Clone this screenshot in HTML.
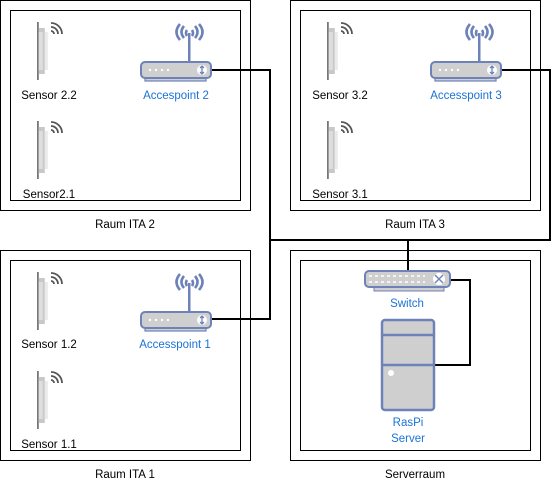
<!DOCTYPE html>
<html><head><meta charset="utf-8"><style>
html,body{margin:0;padding:0;background:#fff}
svg{display:block}
text{font-family:"Liberation Sans",sans-serif;font-size:11.5px}
.b{fill:#000}.l{fill:#1a73d6}
</style></head><body>
<svg width="553" height="482" viewBox="0 0 553 482" xmlns="http://www.w3.org/2000/svg">
<defs>
<g id="sensor">
  <rect x="0" y="0" width="1.8" height="58" fill="#777"/>
  <rect x="1.8" y="6" width="6" height="46" fill="#c8c8c8"/>
  <rect x="1.8" y="10" width="4" height="38" fill="#dedede"/>
  <rect x="7.8" y="10" width="3" height="38" fill="#eaeaea"/>
  <g fill="none" stroke="#555" stroke-width="1.8">
    <path d="M14 9 a3 3 0 0 1 3 3"/>
    <path d="M14 5 a7 7 0 0 1 7 7"/>
    <path d="M14 1 a11 11 0 0 1 11 11"/>
  </g>
</g>
<g id="ap">
  <rect x="48" y="-28" width="2.5" height="30" fill="#6d82b8"/>
  <g fill="none" stroke="#6d82b8" stroke-width="2.6">
    <path d="M44 -35 q-5 6 0 12"/><path d="M40 -37 q-7 8 0 16"/>
    <path d="M55 -35 q5 6 0 12"/><path d="M59 -37 q7 8 0 16"/>
    <path d="M47 -31 q-2 3 0 6"/><path d="M52 -31 q2 3 0 6"/>
  </g>
  <rect x="5" y="16" width="61" height="4" fill="#cfcfcf" stroke="#6d82b8" stroke-width="1.2"/>
  <rect x="1" y="1" width="70" height="16" rx="4" fill="#cfcfcf" stroke="#6d82b8" stroke-width="2"/>
  <g fill="#fff"><circle cx="10" cy="9" r="1.2"/><circle cx="16" cy="9" r="1.2"/><circle cx="22" cy="9" r="1.2"/><circle cx="28" cy="9" r="1.2"/></g>
  <circle cx="62" cy="9" r="5" fill="#fff"/>
  <path d="M62 5.5 v7 M60 7 l2-2 2 2 M60 11 l2 2 2-2" stroke="#6d82b8" stroke-width="1.3" fill="none"/>
</g>
</defs>

<g fill="none" stroke="#000" stroke-width="1">
  <rect x="0.5" y="0.5" width="250" height="210"/><rect x="10.5" y="10.5" width="230" height="190"/>
  <rect x="290.5" y="0.5" width="250" height="210"/><rect x="300.5" y="10.5" width="230" height="190"/>
  <rect x="0.5" y="250.5" width="250" height="210"/><rect x="10.5" y="260.5" width="230" height="190"/>
  <rect x="290.5" y="250.5" width="250" height="210"/><rect x="300.5" y="260.5" width="230" height="190"/>
</g>

<g fill="none" stroke="#000" stroke-width="2">
  <path d="M211 70 H270 V319 H211"/>
  <path d="M501 70 H550 V240 H270"/>
  <path d="M408 240 V270"/>
  <path d="M450 280 H470 V365 H433"/>
</g>

<use href="#sensor" x="37" y="22"/><use href="#sensor" x="37" y="121"/>
<use href="#ap" x="140" y="61"/>
<text class="b" x="49" y="99" text-anchor="middle">Sensor 2.2</text>
<text class="b" x="49" y="198" text-anchor="middle">Sensor2.1</text>
<text class="l" x="176" y="99" text-anchor="middle">Accespoint 2</text>
<text class="b" x="125" y="228" text-anchor="middle">Raum ITA 2</text>

<use href="#sensor" x="327" y="22"/><use href="#sensor" x="327" y="121"/>
<use href="#ap" x="430" y="61"/>
<text class="b" x="340" y="99" text-anchor="middle">Sensor 3.2</text>
<text class="b" x="340" y="198" text-anchor="middle">Sensor 3.1</text>
<text class="l" x="466" y="99" text-anchor="middle">Accesspoint 3</text>
<text class="b" x="415" y="228" text-anchor="middle">Raum ITA 3</text>

<use href="#sensor" x="37" y="272"/><use href="#sensor" x="37" y="371"/>
<use href="#ap" x="140" y="311"/>
<text class="b" x="49" y="348" text-anchor="middle">Sensor 1.2</text>
<text class="b" x="49" y="448" text-anchor="middle">Sensor 1.1</text>
<text class="l" x="175" y="348" text-anchor="middle">Accesspoint 1</text>
<text class="b" x="125" y="478" text-anchor="middle">Raum ITA 1</text>

<rect x="374" y="286" width="70" height="5" fill="#cfcfcf" stroke="#6d82b8" stroke-width="1"/>
<rect x="365" y="271" width="85" height="16" rx="4" fill="#cfcfcf" stroke="#6d82b8" stroke-width="2"/>
<g stroke="#fff" stroke-width="1.5">
  <path d="M369 276 h56 M369 282 h56" stroke-dasharray="3 3"/>
</g>
<circle cx="439" cy="279" r="6" fill="#fff"/>
<path d="M435 275 l8 8 M443 275 l-8 8" stroke="#6d82b8" stroke-width="1.4"/>
<text class="l" x="407" y="307" text-anchor="middle">Switch</text>

<rect x="382" y="320" width="52" height="90" rx="3" fill="#cfcfcf" stroke="#6d82b8" stroke-width="2.5"/>
<path d="M382 335 H434 M382 365 H434" stroke="#6d82b8" stroke-width="2.5"/>
<circle cx="391" cy="373" r="3" fill="#fff"/>
<text class="l" x="408" y="426" text-anchor="middle">RasPi</text>
<text class="l" x="408" y="442" text-anchor="middle">Server</text>
<text class="b" x="415" y="478" text-anchor="middle">Serverraum</text>
</svg>
</body></html>
